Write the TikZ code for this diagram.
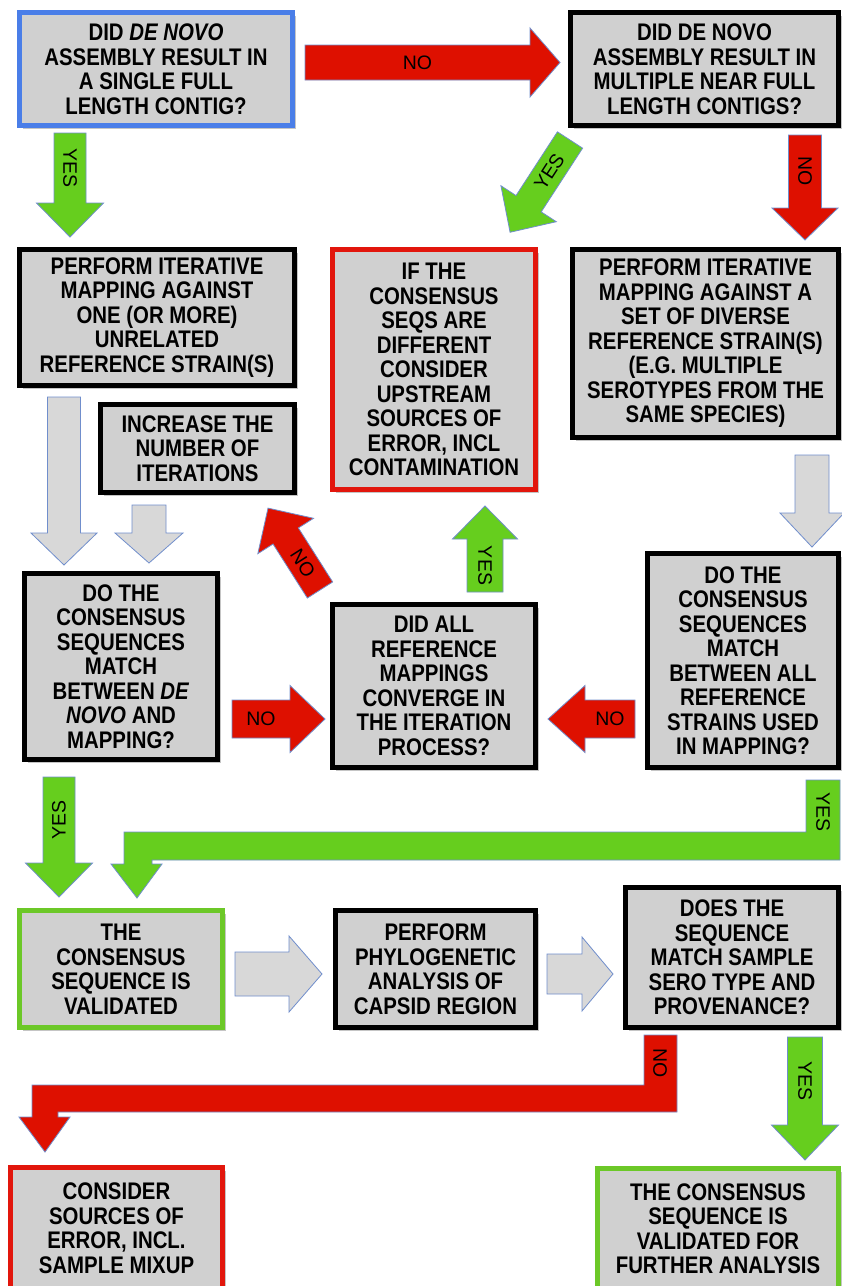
\documentclass[tikz,border=0pt]{standalone}
\usepackage{fontspec}
\setmainfont{Liberation Sans}
\newfontfamily\boxfont{Liberation Sans}[FakeStretch=0.85]
\usetikzlibrary{shadows}

\definecolor{boxgrey}{RGB}{208,208,208}
\definecolor{boxblue}{RGB}{74,126,232}
\definecolor{boxred}{RGB}{226,22,12}
\definecolor{boxgreen}{RGB}{108,200,40}
\definecolor{arrowred}{RGB}{222,16,0}
\definecolor{arrowgreen}{RGB}{102,206,30}
\definecolor{arrowgrey}{RGB}{216,216,216}
\definecolor{arrowline}{RGB}{112,142,204}

\tikzset{
    shaft/.store in=\shafthalf, head/.store in=\headhalf, tiplen/.store in=\tiplen,
    shaft=17, head=33.5, tiplen=34,
    box/.style={draw=black, line width=5pt, fill=boxgrey, align=center, inner sep=0pt,
        font=\boxfont\bfseries\fontsize{24}{24.5}\selectfont,
        drop shadow={shadow xshift=3pt, shadow yshift=-3pt, opacity=0.45}},
    blockarrow/.style={draw=arrowline, line width=0.8pt},
    arrowlabel/.style={font=\fontsize{19.5}{19.5}\selectfont, inner sep=0pt},
    noarrow/.style={fill=arrowred},
    yesarrow/.style={fill=arrowgreen},
    grayarrow/.style={fill=arrowgrey},
}

% block arrow: options, tail, angle, length
\newcommand{\arrowbody}[4][]{%
    \begin{scope}[shift={#2}, rotate=#3, #1]
        \filldraw[blockarrow] (0,-\shafthalf) -- ({#4-\tiplen},-\shafthalf) -- ({#4-\tiplen},-\headhalf)
            -- (#4,0) -- ({#4-\tiplen},\headhalf) -- ({#4-\tiplen},\shafthalf) -- (0,\shafthalf) -- cycle;
    \end{scope}}
% block arrow with label: options, tail, angle, length, label name, label rotation, text
\newcommand{\barrow}[7][]{%
    \arrowbody[#1]{#2}{#3}{#4}
    \begin{scope}[shift={#2}, rotate=#3, #1]
        \node[arrowlabel, rotate=#6] (#5) at ({(#4-\tiplen)/2},0) {#7};
    \end{scope}}

\begin{document}
\begin{tikzpicture}[x=1pt, y=-1pt]
    \useasboundingbox (0,0) rectangle (842,1286);
    \fill[white] (0,0) rectangle (842,1286);

    % Row 1
    \node[box, draw=boxblue, minimum width=273, minimum height=113] (single) at (156,69)
        {DID \textit{DE NOVO}\\ASSEMBLY RESULT IN\\A SINGLE FULL\\LENGTH CONTIG?};
    \node[box, minimum width=268, minimum height=113] (multiple) at (704.5,69)
        {DID DE NOVO\\ASSEMBLY RESULT IN\\MULTIPLE NEAR FULL\\LENGTH CONTIGS?};

    % Row 2
    \node[box, minimum width=275, minimum height=136] (mapone) at (157,317.5)
        {PERFORM ITERATIVE\\MAPPING AGAINST\\ONE (OR MORE)\\UNRELATED\\REFERENCE STRAIN(S)};
    \node[box, draw=boxred, minimum width=203, minimum height=240] (upstream) at (434,369.5)
        {IF THE\\CONSENSUS\\SEQS ARE\\DIFFERENT\\CONSIDER\\UPSTREAM\\SOURCES OF\\ERROR, INCL\\CONTAMINATION};
    \node[box, minimum width=266, minimum height=188] (mapset) at (705.5,343.5)
        {PERFORM ITERATIVE\\MAPPING AGAINST A\\SET OF DIVERSE\\REFERENCE STRAIN(S)\\(E.G. MULTIPLE\\SEROTYPES FROM THE\\SAME SPECIES)};
    \node[box, minimum width=194, minimum height=88] (iterate) at (197.5,448.5)
        {INCREASE THE\\NUMBER OF\\ITERATIONS};

    % Row 3
    \node[box, minimum width=193, minimum height=186] (matchnovo) at (121,666.5)
        {DO THE\\CONSENSUS\\SEQUENCES\\MATCH\\BETWEEN \textit{DE}\\\textit{NOVO} AND\\MAPPING?};
    \node[box, minimum width=203, minimum height=163] (converge) at (434,686)
        {DID ALL\\REFERENCE\\MAPPINGS\\CONVERGE IN\\THE ITERATION\\PROCESS?};
    \node[box, minimum width=191, minimum height=214] (matchref) at (743,660.5)
        {DO THE\\CONSENSUS\\SEQUENCES\\MATCH\\BETWEEN ALL\\REFERENCE\\STRAINS USED\\IN MAPPING?};

    % Row 4
    \node[box, draw=boxgreen, minimum width=203, minimum height=117] (validated) at (121,969)
        {THE\\CONSENSUS\\SEQUENCE IS\\VALIDATED};
    \node[box, minimum width=200, minimum height=117] (phylo) at (435.5,969)
        {PERFORM\\PHYLOGENETIC\\ANALYSIS OF\\CAPSID REGION};
    \node[box, minimum width=213, minimum height=140] (serotype) at (732,957.5)
        {DOES THE\\SEQUENCE\\MATCH SAMPLE\\SERO TYPE AND\\PROVENANCE?};

    % Row 5
    \node[box, draw=boxred, minimum width=212, minimum height=121] (mixup) at (116.5,1228)
        {CONSIDER\\SOURCES OF\\ERROR, INCL.\\SAMPLE MIXUP};
    \node[box, draw=boxgreen, minimum width=241, minimum height=120] (further) at (718,1228.5)
        {THE CONSENSUS\\SEQUENCE IS\\VALIDATED FOR\\FURTHER ANALYSIS};

    % Straight arrows
    \barrow[noarrow, shaft=17.5, head=34.5, tiplen=30]{(305,62.5)}{0}{255}{no1}{0}{NO}
    \barrow[yesarrow, shaft=16, head=33.5, tiplen=34]{(70,133)}{-90}{104}{yes1}{-90}{YES}
    \barrow[yesarrow, shaft=15, head=33, tiplen=34]{(570,140)}{-123}{110}{yes2}{57}{YES}
    \barrow[noarrow, shaft=16.5, head=33, tiplen=32]{(805,135)}{-90}{105}{no2}{-90}{NO}
    \arrowbody[grayarrow, shaft=16.5, head=33, tiplen=32]{(64,397)}{-90}{168}
    \arrowbody[grayarrow, shaft=17, head=34, tiplen=30]{(149,505)}{-90}{58}
    \arrowbody[grayarrow, shaft=17, head=32, tiplen=34]{(812,455)}{-90}{92}
    \barrow[noarrow, shaft=15, head=33, tiplen=33]{(320,590)}{122.4}{97}{no3}{-57.6}{NO}
    \barrow[yesarrow, shaft=18, head=32.5, tiplen=33]{(485,592)}{90}{86}{yes3}{-90}{YES}
    \barrow[noarrow, shaft=19, head=33.5, tiplen=35]{(232,719)}{0}{93}{no4}{0}{NO}
    \barrow[noarrow, shaft=19, head=33.5, tiplen=37]{(635,719)}{180}{87}{no5}{0}{NO}
    \barrow[yesarrow, shaft=16, head=33.5, tiplen=34]{(59,777)}{-90}{120}{yes4}{90}{YES}
    \arrowbody[grayarrow, shaft=22, head=38, tiplen=33]{(235,974)}{0}{87}
    \arrowbody[grayarrow, shaft=20, head=37, tiplen=31]{(547,974)}{0}{66}
    \barrow[yesarrow, shaft=17.5, head=33.5, tiplen=35]{(805,1037)}{-90}{123}{yes6}{-90}{YES}

    % Bent arrows
    \filldraw[blockarrow, yesarrow] (840,780) -- (840,860) -- (152,860) -- (152,864) -- (162,864)
        -- (137,898) -- (111,864) -- (124,864) -- (124,832) -- (806,832) -- (806,780) -- cycle;
    \node[arrowlabel, rotate=-90] (yes5) at (823,812) {YES};
    \filldraw[blockarrow, noarrow] (644,1035) -- (677,1035) -- (677,1112) -- (58,1112) -- (58,1117)
        -- (70,1117) -- (45,1152) -- (19,1117) -- (32,1117) -- (32,1085) -- (644,1085) -- cycle;
    \node[arrowlabel, rotate=-90] (no6) at (660,1063) {NO};
\end{tikzpicture}
\end{document}
